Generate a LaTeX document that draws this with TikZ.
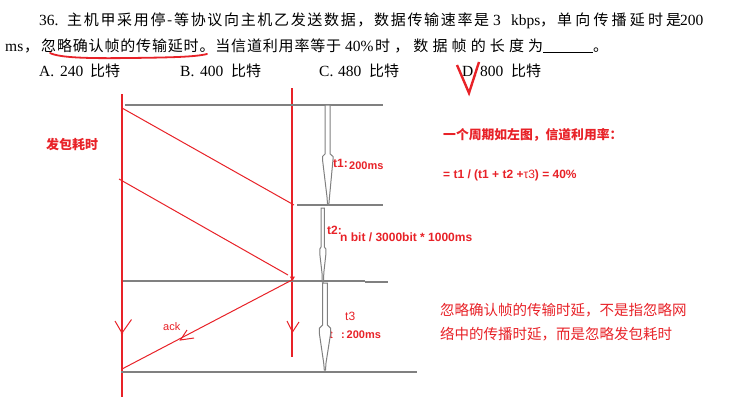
\documentclass[tikz,border=0pt]{standalone}
\usepackage{fontspec}
\setmainfont{Liberation Serif}
\newfontfamily\cjk{Noto Sans CJK SC}
\newfontfamily\lsans{Liberation Sans}
\ExplSyntaxOn
\NewDocumentCommand\spreadbox{mm}{\makebox[#1][s]{\tl_map_inline:nn{#2}{##1\hfil}\unskip}}
\ExplSyntaxOff
\definecolor{pred}{RGB}{232,34,40}
\definecolor{pgray}{RGB}{128,128,128}
\tikzset{
  q/.style={anchor=base west,inner sep=0pt,font=\fontsize{15.5}{17}\selectfont},
  qc/.style={anchor=base west,inner sep=0pt,font=\cjk\fontsize{15}{17}\selectfont},
  redline/.style={draw=pred,line width=1pt},
  grayline/.style={draw=pgray,line width=1.3pt},
  hollow/.style={draw=pgray,fill=white,line width=1pt},
  lbl/.style={anchor=base west,inner sep=0pt,text=pred},
  lblb/.style={lbl,font=\lsans\bfseries\fontsize{12}{14}\selectfont},
}
\begin{document}
\begin{tikzpicture}[x=1pt,y=-1pt]
\useasboundingbox (0,0) rectangle (732,415);
\fill[white] (0,0) rectangle (732,415);

% ---------- question text ----------
\node[q] (n36) at (39,25) {36.};
\node[qc] (l1a) at (67,25) {\spreadbox{422pt}{主机甲采用停-等协议向主机乙发送数据，数据传输速率是}};
\node[q] (l1b) at (493,25) {3};
\node[q] (l1c) at (511,25) {kbps};
\node[qc] (l1d) at (540,25) {，};
\node[qc] (l1e) at (557,25) {\spreadbox{124pt}{单向传播延时是}};
\node[q] (l1f) at (680,25) {200};

\node[q] (l2a) at (5,51) {ms};
\node[qc] (l2b) at (24,51) {，};
\node[qc] (l2c) at (41,51) {\spreadbox{300pt}{忽略确认帧的传输延时。当信道利用率等于}};
\node[q] (l2d) at (345,51) {40\%};
\node[qc] (l2e) at (375,51) {\spreadbox{168pt}{时，数据帧的长度为}};
\coordinate (blankL) at (543,52.5);
\coordinate (blankR) at (593,52.5);
\draw[black,line width=0.9pt] (blankL) -- (blankR);
\node[qc] (l2f) at (593,51) {。};

\node[q] (oA) at (39,76) {A.};
\node[q] (oA1) at (60,76) {240};
\node[qc] (oA2) at (90,76) {比特};
\node[q] (oB) at (180,76) {B.};
\node[q] (oB1) at (200,76) {400};
\node[qc] (oB2) at (231,76) {比特};
\node[q] (oC) at (319,76) {C.};
\node[q] (oC1) at (338,76) {480};
\node[qc] (oC2) at (369,76) {比特};
\node[q] (oD) at (462,76) {D.};
\node[q] (oD1) at (480,76) {800};
\node[qc] (oD2) at (511,76) {比特};

% red underline and check mark
\draw[pred,line width=1.8pt,line cap=round] (50,53) .. controls (60,58) and (90,58.5) .. (130,58) .. controls (170,57.5) and (195,57) .. (207,54);
\draw[pred,line width=2.4pt] (457,65) -- (469,93) -- (479,62);

% ---------- diagram ----------
\coordinate (Ltop) at (122,94);
\coordinate (Lbot) at (122,397);
\coordinate (Rtop) at (292,88);
\coordinate (Rbot) at (292,357);
\draw[redline,line width=1.1pt] (Ltop) -- (Lbot);
\draw[redline,line width=1.1pt] (Rtop) -- (Rbot);

\coordinate (g1a) at (125,105);  \coordinate (g1b) at (383,105);
\coordinate (g2a) at (297,205);  \coordinate (g2b) at (383,205);
\coordinate (g3a) at (123,281);  \coordinate (g3b) at (365,281);
\coordinate (g3c) at (365,282);  \coordinate (g3d) at (388,282);
\coordinate (g4a) at (121,372);  \coordinate (g4b) at (417,372);
\draw[grayline] (g1a) -- (g1b);
\draw[grayline] (g2a) -- (g2b);
\draw[grayline] (g3a) -- (g3b);
\draw[grayline] (g3c) -- (g3d);
\draw[grayline] (g4a) -- (g4b);

\coordinate (d1a) at (122,108); \coordinate (d1b) at (294,205);
\coordinate (d2a) at (119,179); \coordinate (d2b) at (288,275);
\coordinate (acka) at (292,280); \coordinate (ackb) at (122,369);
\draw[redline] (d1a) -- (d1b);
\draw[redline] (d2a) -- (d2b);
\draw[redline] (acka) -- (ackb);
\fill[pred] (289.8,276.5) -- (295,276.5) -- (292.4,281) -- cycle;

% open arrow marks
\draw[redline] (187,330) -- (180.5,340) -- (194,338);
\draw[redline] (115,321) -- (122,333) -- (131.5,319.5);
\fill[pred] (122,333) circle (1.3);
\draw[redline] (287,321) -- (292.5,332) -- (299,322);

% labels
\node[lbl,font=\cjk\bfseries\fontsize{13}{15}\selectfont] (fb) at (46,149) {发包耗时};
\node[lbl,font=\lsans\fontsize{11}{13}\selectfont] (ack) at (163,330) {ack};
\node[lbl,font=\lsans\bfseries\fontsize{12}{14}\selectfont] (t1) at (333,167) {t1:};
\node[lbl,font=\lsans\bfseries\fontsize{11}{13}\selectfont] (t1v) at (349,169) {200ms};
\node[lbl,font=\lsans\bfseries\fontsize{12}{14}\selectfont] (t2) at (327,234) {t2:};
\node[lbl,font=\lsans\bfseries\fontsize{12}{14}\selectfont] (t2v) at (340,241) {n bit / 3000bit * 1000ms};
\node[lbl,font=\lsans\fontsize{12}{14}\selectfont] (t3) at (345,320) {t3};
\node[lbl,font=\lsans\bfseries\fontsize{11}{13}\selectfont] (t3t) at (329,338) {t};
\node[lbl,font=\lsans\bfseries\fontsize{11}{13}\selectfont] (t3v) at (341,338) {:\,200ms};

% hollow arrows
\draw[hollow] (325,105) -- (325,154) -- (322.5,156.5) -- (322.5,159.5) -- (327,197) -- (327.6,205) -- (328.8,205) -- (329.5,197) -- (333,159.5) -- (333,156.5) -- (330.2,154) -- (330.2,105) -- cycle;
\draw[hollow] (321,208) -- (321,247) -- (319.8,249) -- (319.8,254) -- (322,273) -- (322.3,282) -- (323.5,282) -- (323.8,273) -- (325.9,254) -- (325.9,249) -- (324.3,247) -- (324.3,208) -- cycle;
\draw[hollow] (322.7,283) -- (322.7,325) -- (319.3,328.3) -- (319.3,333) -- (323.7,363) -- (324.3,370) -- (325.5,370) -- (326,363) -- (330.7,333) -- (330.7,328.3) -- (327.3,325) -- (327.3,283) -- cycle;

% right-hand notes
\node[lbl,font=\cjk\bfseries\fontsize{12.8}{14}\selectfont] (n1) at (443,139) {一个周期如左图，信道利用率：};
\node[lblb] (n2) at (443,178) {= t1 / (t1 + t2 +{\mdseries τ3}) = 40\%};
\node[lbl,font=\cjk\fontsize{14.5}{16}\selectfont] (n3) at (440,315) {忽略确认帧的传输时延，不是指忽略网};
\node[lbl,font=\cjk\fontsize{14.5}{16}\selectfont] (n4) at (440,339) {络中的传播时延，而是忽略发包耗时};
\end{tikzpicture}
\end{document}
